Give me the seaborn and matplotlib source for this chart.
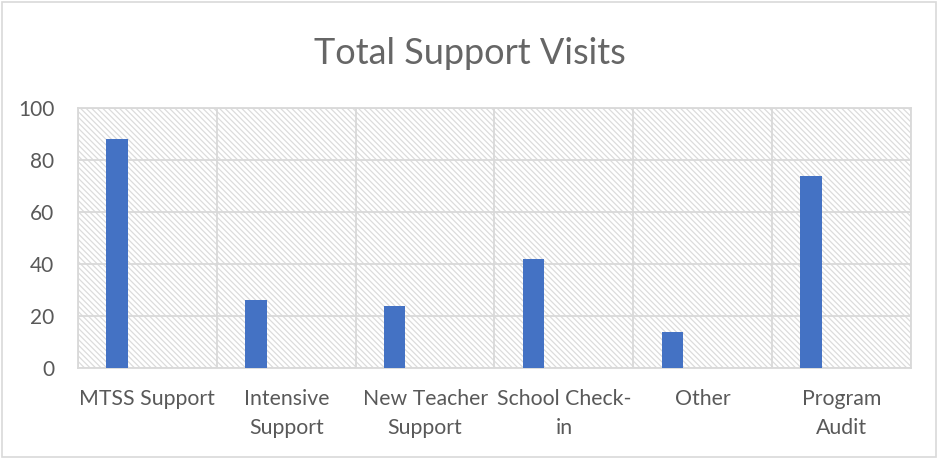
import matplotlib
matplotlib.use("Agg")
import matplotlib.pyplot as plt
import seaborn as sns
import pandas as pd
from matplotlib.patches import Rectangle

categories = ["MTSS Support", "Intensive Support", "New Teacher Support",
              "School Check-in", "Other", "Program Audit"]
tick_labels = ["MTSS Support", "Intensive\nSupport", "New Teacher\nSupport",
               "School Check-\nin", "Other", "Program\nAudit"]
values = [88, 26, 24, 42, 14, 74]
empty_values = [0, 0, 0, 0, 0, 0]
series_levels = ["Series1", "Series2", "Series3"]
title = "Total Support Visits"
y_ticks = [0, 20, 40, 60, 80, 100]

sns.set_theme(style="white")
plt.rcParams["font.family"] = ["Lato", "DejaVu Sans"]
plt.rcParams["hatch.linewidth"] = 0.9

grey_text = "#595959"
grid_c = "#d9d9d9"
hatch_c = "#dcdcdc"
bar_c = "#4472C4"

df = pd.concat([
    pd.DataFrame({"category": categories, "value": values, "series": series_levels[0]}),
    pd.DataFrame({"category": categories, "value": empty_values, "series": series_levels[1]}),
    pd.DataFrame({"category": categories, "value": empty_values, "series": series_levels[2]}),
], ignore_index=True)

fig = plt.figure(figsize=(9.4, 4.59), dpi=100)
ax = fig.add_axes([78 / 940, 1 - 368 / 459, (911 - 78) / 940, (368 - 108) / 459])

sns.barplot(data=df, x="category", y="value", hue="series",
            hue_order=series_levels, order=categories,
            palette={"Series1": bar_c, "Series2": "#ED7D31", "Series3": "#A5A5A5"},
            width=0.657, gap=0.29, legend=False, ax=ax, zorder=3,
            linewidth=0, saturation=1, errorbar=None)

# hatched plot-area background
bg = Rectangle((0, 0), 1, 1, transform=ax.transAxes, facecolor="white",
               edgecolor=hatch_c, hatch="\\" * 6, linewidth=0, zorder=0)
ax.add_patch(bg)

ax.set_xlim(-0.5, len(categories) - 0.5)
ax.set_ylim(0, 100)
ax.set_yticks(y_ticks)
ax.set_xticks(range(len(categories)))
ax.set_xticklabels(tick_labels, linespacing=1.6)
ax.set_xticks([i - 0.5 for i in range(len(categories) + 1)], minor=True)
ax.set_xlabel("")
ax.set_ylabel("")

ax.grid(True, axis="y", which="major", color=grid_c, lw=1.3, zorder=1)
ax.grid(True, axis="x", which="minor", color=grid_c, lw=1.3, zorder=1)
ax.grid(False, axis="x", which="major")
ax.set_axisbelow(True)
for s in ax.spines.values():
    s.set_color(grid_c)
    s.set_linewidth(1.3)

ax.tick_params(axis="x", which="both", length=0, labelsize=15.3, colors=grey_text, pad=15)
ax.tick_params(axis="y", which="both", length=0, labelsize=15, colors=grey_text, pad=17)
for lab in ax.get_xticklabels():
    lab.set_verticalalignment("top")

fig.text(0.5, 1 - 64 / 459, title, ha="center", va="baseline",
         fontsize=26, color="#666666")

fig.add_artist(Rectangle((2 / 940, 2 / 459), 934 / 940, 455 / 459,
                         transform=fig.transFigure, fill=False,
                         edgecolor=grid_c, linewidth=1.2))

fig.savefig("out.png", dpi=100, facecolor="white")
